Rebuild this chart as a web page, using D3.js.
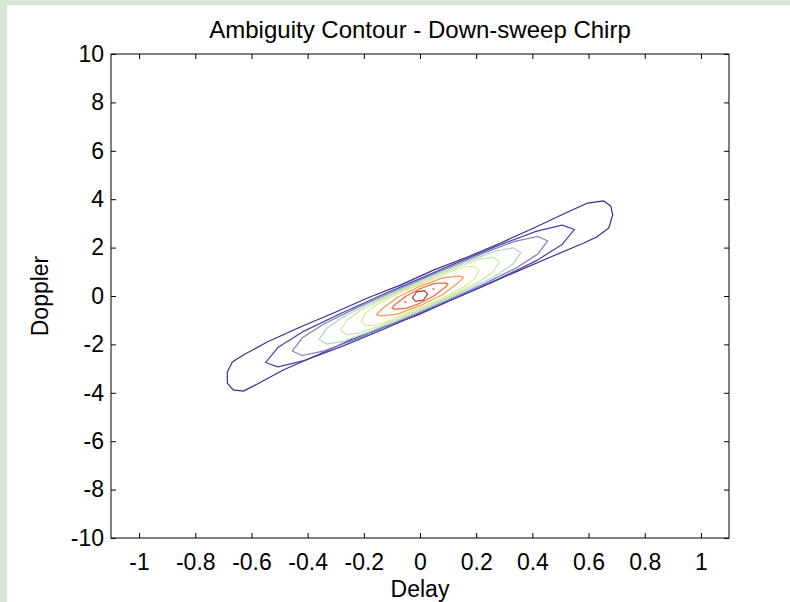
<!DOCTYPE html>
<html>
<head>
<meta charset="utf-8">
<script src="https://cdn.jsdelivr.net/npm/d3@7/dist/d3.min.js"></script>
<style>
body{margin:0;background:#fff;}
svg{display:block;font-family:"Liberation Sans",Arial,sans-serif;}
.axis text{font-size:23px;fill:#000;}
.axis line{stroke:#000;stroke-width:1;}
.axis path{display:none;}
.contour{fill:none;stroke-width:1.2;stroke-linejoin:round;}
</style>
</head>
<body>
<svg id="chart"></svg>
<script>
// tick labels
var xTicks = [-1,-0.8,-0.6,-0.4,-0.2,0,0.2,0.4,0.6,0.8,1];
var yTicks = [-10,-8,-6,-4,-2,0,2,4,6,8,10];

// contour levels, lowest (outer) to highest (centre), [delay, doppler]
var levelColors = ["#3b2e8c","#4e3f9f","#7b7ec4","#a6d9c2","#c6e5a6","#e4e98c","#f29a55","#ef6a33","#b8383a"];

var c1 = [[-0.686,-3.14],[-0.668,-2.73],[-0.629,-2.44],[-0.544,-1.90],[-0.426,-1.28],[-0.308,-0.70],
          [-0.187,-0.08],[-0.070,0.45],[0.048,1.07],[0.169,1.61],[0.287,2.19],[0.405,2.81],[0.526,3.47],
          [0.597,3.84],[0.654,3.93],[0.679,3.72],[0.686,3.35],[0.672,2.81],[0.629,2.44],[0.583,2.19],
          [0.465,1.61],[0.348,1.03],[0.226,0.41],[0.109,-0.17],[-0.009,-0.79],[-0.130,-1.28],
          [-0.248,-1.82],[-0.365,-2.44],[-0.487,-3.06],[-0.579,-3.64],[-0.629,-3.93],[-0.665,-3.88],[-0.686,-3.60]];
var c2 = [[0.55,2.75],[0.506,2.93],[0.413,2.67],[0.275,2.07],[0.138,1.41],[0,0.72],[-0.138,0.03],
          [-0.275,-0.68],[-0.413,-1.45],[-0.506,-2.13],[-0.55,-2.75],[-0.506,-2.93],[-0.413,-2.67],
          [-0.275,-2.07],[-0.138,-1.41],[0,-0.72],[0.138,-0.03],[0.275,0.68],[0.413,1.45],[0.506,2.13]];
var c3 = [[0.455,2.275],[0.419,2.46],[0.341,2.27],[0.228,1.78],[0.114,1.23],[0,0.66],[-0.114,0.09],
          [-0.228,-0.50],[-0.341,-1.15],[-0.419,-1.73],[-0.455,-2.275],[-0.419,-2.46],[-0.341,-2.27],
          [-0.228,-1.78],[-0.114,-1.23],[0,-0.66],[0.114,-0.09],[0.228,0.50],[0.341,1.15],[0.419,1.73]];
var c4 = [[0.36,1.80],[0.331,1.99],[0.27,1.86],[0.18,1.48],[0.09,1.05],[0,0.60],[-0.09,0.15],
          [-0.18,-0.32],[-0.27,-0.84],[-0.331,-1.33],[-0.36,-1.80],[-0.331,-1.99],[-0.27,-1.86],
          [-0.18,-1.48],[-0.09,-1.05],[0,-0.60],[0.09,-0.15],[0.18,0.32],[0.27,0.84],[0.331,1.33]];
var c5 = [[0.283,1.415],[0.26,1.60],[0.212,1.52],[0.142,1.23],[0.071,0.89],[0,0.54],[-0.071,0.19],
          [-0.142,-0.19],[-0.212,-0.60],[-0.26,-1.00],[-0.283,-1.415],[-0.26,-1.60],[-0.212,-1.52],
          [-0.142,-1.23],[-0.071,-0.89],[0,-0.54],[0.071,-0.19],[0.142,0.19],[0.212,0.60],[0.26,1.00]];
var c6 = [[0.21,1.05],[0.193,1.23],[0.158,1.20],[0.105,0.99],[0.053,0.74],[0,0.48],[-0.053,0.22],
          [-0.105,-0.06],[-0.158,-0.38],[-0.193,-0.70],[-0.21,-1.05],[-0.193,-1.23],[-0.158,-1.20],
          [-0.105,-0.99],[-0.053,-0.74],[0,-0.48],[0.053,-0.22],[0.105,0.06],[0.158,0.38],[0.193,0.70]];
var c7 = [[0.155,0.775],[0.14,0.82],[0.08,0.75],[0,0.40],[-0.08,-0.05],[-0.14,-0.58],[-0.155,-0.775],
          [-0.14,-0.82],[-0.08,-0.75],[0,-0.40],[0.08,0.05],[0.14,0.58]];
var c8 = [[0.10,0.50],[0.09,0.54],[0.05,0.51],[0,0.30],[-0.05,-0.01],[-0.09,-0.36],[-0.10,-0.50],
          [-0.09,-0.54],[-0.05,-0.51],[0,-0.30],[0.05,0.01],[0.09,0.36]];
var c9 = [[-0.027,-0.08],[-0.012,0.17],[0.016,0.22],[0.027,0.08],[0.012,-0.17],[-0.016,-0.22]];
// tiny closed contours (single points)
var dots = [[-0.052,-0.25],[0.048,0.29]];

var width = 790;
var height = 602;
var svg = d3.select("#chart")
	.attr("width", width)
	.attr("height", height);

svg.append("rect").attr("x",0).attr("y",0).attr("width",width).attr("height",height).attr("fill","#fff");
// green page frame
svg.append("rect").attr("x",0).attr("y",0).attr("width",width).attr("height",5).attr("fill","#d5e8d4");
svg.append("rect").attr("x",0).attr("y",0).attr("width",7).attr("height",height).attr("fill","#d5e8d4");

var pLeft = 111, pRight = 729, pTop = 54, pBottom = 538;
var x = d3.scaleLinear().domain([-1.1, 1.1]).range([pLeft, pRight]);
var y = d3.scaleLinear().domain([-10, 10]).range([pBottom, pTop]);

var contours = [c1,c2,c3,c4,c5,c6,c7,c8,c9];
var line = d3.line()
	.x(function(d){ return x(d[0]); })
	.y(function(d){ return y(d[1]); })
	.curve(d3.curveLinearClosed);

svg.append("g")
	.selectAll("path")
	.data(contours)
	.enter()
	.append("path")
	.attr("class","contour")
	.attr("d", line)
	.attr("stroke", function(d,i){ return levelColors[i]; });

svg.append("g")
	.selectAll("circle")
	.data(dots)
	.enter()
	.append("circle")
	.attr("cx", function(d){ return x(d[0]); })
	.attr("cy", function(d){ return y(d[1]); })
	.attr("r", 1.1)
	.attr("fill", levelColors[7]);

// axes, MATLAB style: ticks inside on all four sides
var fmt = function(d){ return String(d); };
svg.append("g").attr("class","axis")
	.attr("transform","translate(0,"+pBottom+")")
	.call(d3.axisBottom(x).tickValues(xTicks).tickFormat(fmt).tickSize(-5).tickPadding(16));
svg.append("g").attr("class","axis")
	.attr("transform","translate(0,"+pTop+")")
	.call(d3.axisTop(x).tickValues(xTicks).tickFormat("").tickSize(-5));
svg.append("g").attr("class","axis")
	.attr("transform","translate("+pLeft+",0)")
	.call(d3.axisLeft(y).tickValues(yTicks).tickFormat(fmt).tickSize(-5).tickPadding(7));
svg.append("g").attr("class","axis")
	.attr("transform","translate("+pRight+",0)")
	.call(d3.axisRight(y).tickValues(yTicks).tickFormat("").tickSize(-5));

svg.append("rect")
	.attr("x",pLeft).attr("y",pTop)
	.attr("width",pRight-pLeft).attr("height",pBottom-pTop)
	.attr("fill","none").attr("stroke","#000").attr("stroke-width",1);

svg.append("text")
	.attr("x",420).attr("y",38)
	.attr("text-anchor","middle")
	.attr("font-size","24px")
	.text("Ambiguity Contour - Down-sweep Chirp");
svg.append("text")
	.attr("x",420).attr("y",597)
	.attr("text-anchor","middle")
	.attr("font-size","23px")
	.text("Delay");
svg.append("text")
	.attr("transform","translate(48,296) rotate(-90)")
	.attr("text-anchor","middle")
	.attr("font-size","23px")
	.text("Doppler");
</script>
</body>
</html>
